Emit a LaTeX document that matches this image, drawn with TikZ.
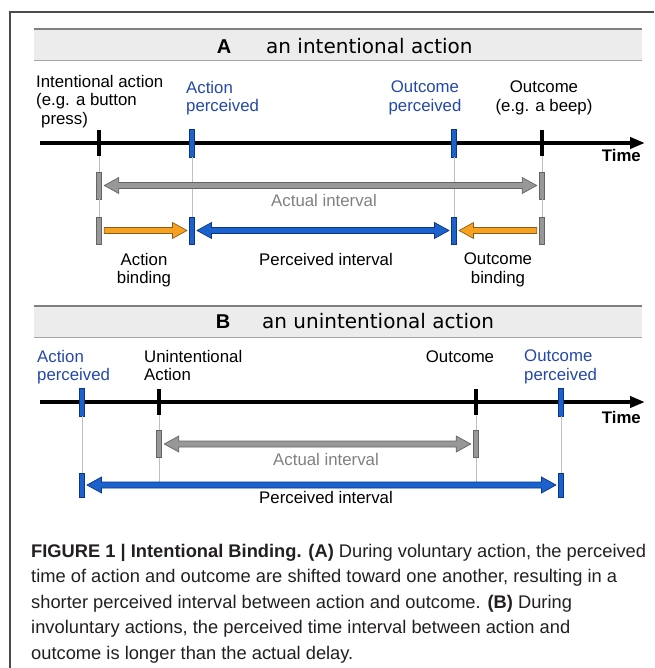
\documentclass[tikz,border=0pt]{standalone}
\usepackage{fontspec}
\setmainfont{Liberation Sans}
\newfontfamily\ttlfont{DejaVu Sans}
\usetikzlibrary{arrows.meta,calc}

\definecolor{ibblue}{RGB}{28,98,205}
\definecolor{ibbluedk}{RGB}{12,52,135}
\definecolor{ibtext}{RGB}{36,72,168}
\definecolor{iborange}{RGB}{246,162,32}
\definecolor{iborangedk}{RGB}{140,92,22}
\definecolor{ibgray}{RGB}{152,152,152}
\definecolor{ibgraydk}{RGB}{100,100,100}
\definecolor{iblabel}{RGB}{128,128,128}
\definecolor{ibbar}{RGB}{236,236,236}
\definecolor{ibcap}{RGB}{35,31,32}

\tikzset{
  lbl/.style={inner sep=0pt, font=\fontsize{16.8}{18.5}\selectfont},
  timelbl/.style={inner sep=0pt, font=\fontsize{16.8}{18.5}\selectfont\bfseries},
  ttlbold/.style={inner sep=0pt, font=\fontsize{20}{22}\selectfont\bfseries},
  ttltext/.style={inner sep=0pt, font=\ttlfont\fontsize{20}{22}\selectfont},
  capt/.style={inner sep=0pt, text=ibcap, font=\fontsize{18.3}{25.5}\selectfont},
  titlebar/.style={fill=ibbar, inner sep=0pt, minimum width=608pt, minimum height=31pt},
  blacktick/.style={fill=black, inner sep=0pt, minimum width=4pt, minimum height=26pt},
  bluetick/.style={fill=ibblue, draw=ibbluedk, line width=0.6pt, inner sep=0pt, minimum width=4.5pt, minimum height=28pt},
  graybar/.style={fill=ibgray, draw=ibgraydk, line width=0.6pt, inner sep=0pt, minimum width=5pt, minimum height=27pt},
  guide/.style={draw=black!25, line width=0.6pt},
  axis/.style={line width=4pt, -{Triangle[length=15pt,width=11pt]}},
  grayarrow/.style={fill=ibgray, draw=ibgraydk, line width=0.7pt},
  orangearrow/.style={fill=iborange, draw=iborangedk, line width=0.7pt},
  bluearrow/.style={fill=ibblue, draw=ibbluedk, line width=0.7pt},
  fatone/.style={to path={let \p1=(\tikztostart), \p2=(\tikztotarget), \n1={sign(\x2-\x1)} in
    (\x1+\n1*2.5pt,\y1+3pt) -- (\x2-\n1*17pt,\y1+3pt) -- (\x2-\n1*17pt,\y1+8pt)
    -- (\x2-\n1*2.5pt,\y1) -- (\x2-\n1*17pt,\y1-8pt) -- (\x2-\n1*17pt,\y1-3pt)
    -- (\x1+\n1*2.5pt,\y1-3pt) -- cycle}},
  fattwo/.style={to path={let \p1=(\tikztostart), \p2=(\tikztotarget) in
    (\x1+2.5pt,\y1) -- (\x1+17pt,\y1+8pt) -- (\x1+17pt,\y1+3pt)
    -- (\x2-17pt,\y1+3pt) -- (\x2-17pt,\y1+8pt) -- (\x2-2.5pt,\y1)
    -- (\x2-17pt,\y1-8pt) -- (\x2-17pt,\y1-3pt) -- (\x1+17pt,\y1-3pt)
    -- (\x1+17pt,\y1-8pt) -- cycle}},
}

\begin{document}
\begin{tikzpicture}[x=1pt,y=-1pt]
\useasboundingbox (0,0) rectangle (654,668);

% frame
\draw[black!70, line width=1.5pt] (10,668) -- (10,12) -- (654,12);

% A: an intentional action
\node[titlebar] (barA) at (338,45) {};
\draw[black!50, line width=2pt] (barA.north west) -- (barA.north east);
\draw[black!35, line width=1.2pt] (barA.south west) -- (barA.south east);
\node[ttlbold, anchor=base] (hA) at (224,54) {A};
\node[ttltext, anchor=base west] (hAt) at (266,54) {an intentional action};

\node[lbl, align=left, anchor=north west] (lIntA) at (36,75) {Intentional action\\(e.g. a button\\\hspace*{5pt}press)};
\node[lbl, text=ibtext, align=left, anchor=north west] (lApA) at (186,81) {Action\\perceived};
\node[lbl, text=ibtext, align=center, anchor=north] (lOpA) at (425,81) {Outcome\\perceived};
\node[lbl, align=center, anchor=north] (lOA) at (544,81) {Outcome\\(e.g. a beep)};

\coordinate (axA) at (40,143);
\coordinate (axAe) at (645,143);
\draw[axis] (axA) -- (axAe);
\node[timelbl, anchor=base east] (timeA) at (641,162) {Time};

\node[blacktick] (tiA) at (99,143) {};
\node[bluetick] (tpA) at (192,143) {};
\node[bluetick] (toPA) at (454,143) {};
\node[blacktick] (toA) at (542,143) {};

\node[graybar] (gA1) at (99,185.5) {};
\node[graybar] (gA2) at (542,185.5) {};
\node[graybar] (gB1) at (99,230.5) {};
\node[bluetick, minimum height=27pt] (bB1) at (192,230.5) {};
\node[bluetick, minimum height=27pt] (bB2) at (454,230.5) {};
\node[graybar] (gB2) at (542,230.5) {};

\draw[guide] (tiA.south) -- (gA1.north) (gA1.south) -- (gB1.north);
\draw[guide] (toA.south) -- (gA2.north) (gA2.south) -- (gB2.north);
\draw[guide] (tpA.south) -- (bB1.north);
\draw[guide] (toPA.south) -- (bB2.north);

\draw[fattwo, grayarrow] (gA1.east) to (gA2.west);
\draw[fatone, orangearrow] (gB1.east) to (bB1.west);
\draw[fattwo, bluearrow] (bB1.east) to (bB2.west);
\draw[fatone, orangearrow] (gB2.west) to (bB2.east);

\node[lbl, text=iblabel, anchor=base] (lAiA) at (324,207) {Actual interval};
\node[lbl, align=center, anchor=north] (lAbA) at (144,253) {Action\\binding};
\node[lbl, anchor=base] (lPiA) at (326,265) {Perceived interval};
\node[lbl, align=center, anchor=north] (lObA) at (498,253) {Outcome\\binding};

% B: an unintentional action
\node[titlebar] (barB) at (338,321.5) {};
\draw[black!50, line width=2pt] (barB.north west) -- (barB.north east);
\draw[black!35, line width=1.2pt] (barB.south west) -- (barB.south east);
\node[ttlbold, anchor=base] (hB) at (223,328) {B};
\node[ttltext, anchor=base west] (hBt) at (262,328) {an unintentional action};

\node[lbl, text=ibtext, align=left, anchor=north west] (lApB) at (37,350) {Action\\perceived};
\node[lbl, align=left, anchor=north west] (lUaB) at (144,350) {Unintentional\\Action};
\node[lbl, anchor=base] (lOB) at (460,362) {Outcome};
\node[lbl, text=ibtext, align=left, anchor=north west] (lOpB) at (524,350) {Outcome\\perceived};

\coordinate (axB) at (40,402);
\coordinate (axBe) at (645,402);
\draw[axis] (axB) -- (axBe);
\node[timelbl, anchor=base east] (timeB) at (641,423) {Time};

\node[bluetick] (tpB) at (82,402) {};
\node[blacktick] (tiB) at (159,402) {};
\node[blacktick] (toB) at (476,402) {};
\node[bluetick] (toPB) at (561,402) {};

\node[graybar] (uB1) at (159,444) {};
\node[graybar] (uB2) at (476,444) {};
\node[bluetick, minimum height=24pt] (pB1) at (82,485) {};
\node[bluetick, minimum height=24pt] (pB2) at (561,485) {};

\draw[guide] (tpB.south) -- (pB1.north);
\draw[guide] (toPB.south) -- (pB2.north);
\draw[guide] (tiB.south) -- (uB1.north) (uB1.south) -- (uB1 |- pB1);
\draw[guide] (toB.south) -- (uB2.north) (uB2.south) -- (uB2 |- pB1);

\draw[fattwo, grayarrow] (uB1.east) to (uB2.west);
\draw[fattwo, bluearrow] (pB1.east) to (pB2.west);

\node[lbl, text=iblabel, anchor=base] (lAiB) at (326,465) {Actual interval};
\node[lbl, anchor=base] (lPiB) at (326,503) {Perceived interval};

% caption
\node[capt, align=left, anchor=north west] (cap) at (31,544) {\textbf{FIGURE 1 | Intentional Binding. (A)} During voluntary action, the perceived\\time of action and outcome are shifted toward one another, resulting in a\\shorter perceived interval between action and outcome. \textbf{(B)} During\\involuntary actions, the perceived time interval between action and\\outcome is longer than the actual delay.};
\end{tikzpicture}
\end{document}
